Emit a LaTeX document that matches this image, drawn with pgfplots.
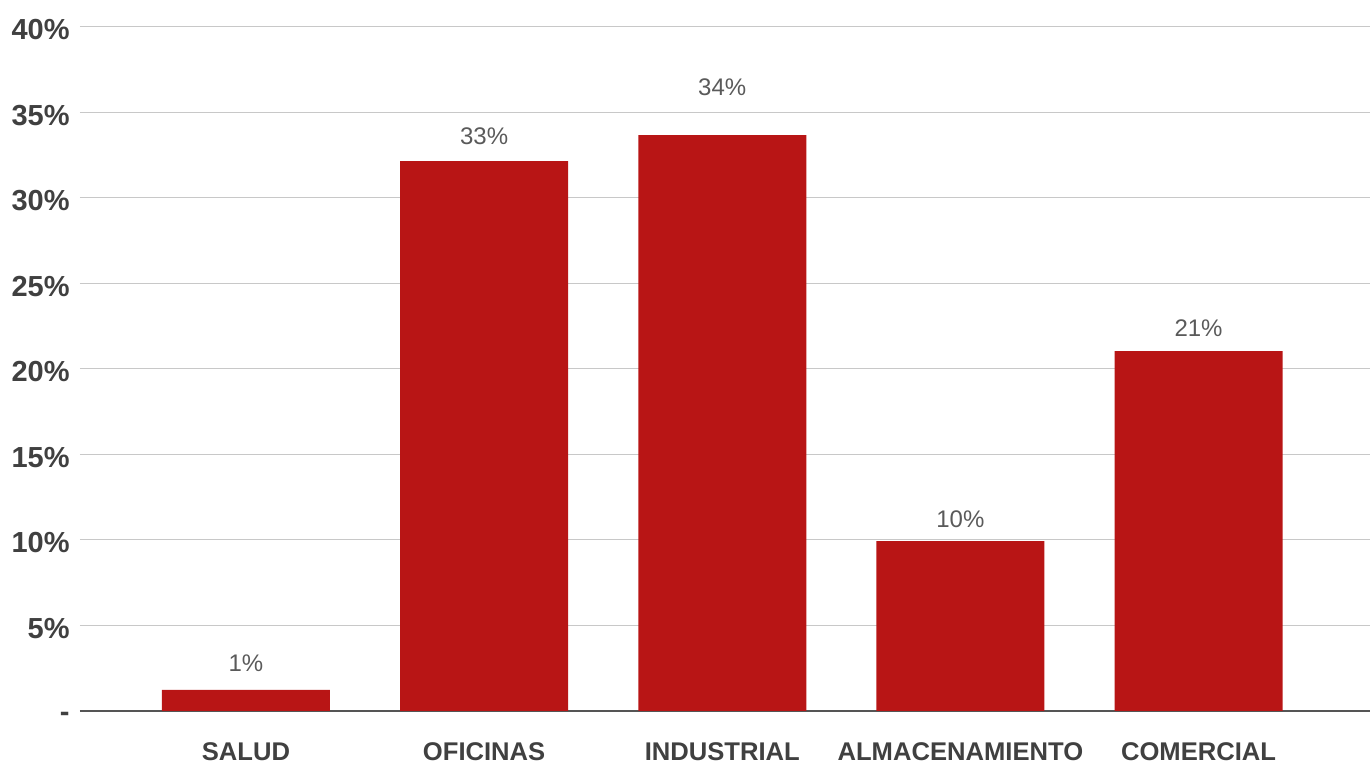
\documentclass[border=0pt]{standalone}
\usepackage{fontspec}
\setmainfont{Liberation Sans}
\usepackage{pgfplots}
\pgfplotsset{compat=1.18}
\definecolor{barred}{HTML}{B81515}
\definecolor{txt}{HTML}{404040}
\definecolor{lbl}{HTML}{5A5A5A}
\definecolor{gridc}{HTML}{C8C8C8}
\definecolor{axisc}{HTML}{555555}

\begin{document}
\begin{tikzpicture}
\begin{axis}[
  width=645pt, height=342pt, scale only axis,
  xmin=-0.697, xmax=4.72, ymin=0, ymax=40,
  axis line style={draw=none},
  major tick length=0pt,
  xtick={0,...,4},
  xticklabels={SALUD,OFICINAS,INDUSTRIAL,ALMACENAMIENTO,COMERCIAL},
  xticklabel style={font=\fontsize{12.8}{14}\selectfont\bfseries, text=txt,
    anchor=north, inner sep=0pt, yshift=-15.5pt},
  ytick={5,10,...,40},
  yticklabels={5\%,10\%,15\%,20\%,25\%,30\%,35\%,40\%},
  yticklabel style={font=\fontsize{14.5}{16}\selectfont\bfseries, text=txt,
    anchor=east, inner sep=0pt, xshift=-5pt, yshift=-1.5pt},
  ymajorgrids, grid style={gridc, line width=0.5pt},
  extra y ticks={0}, extra y tick labels={-},
  extra y tick style={grid style={axisc, line width=0.75pt},
    yticklabel style={yshift=-1.5pt}},
  clip=false,
]
\coordinate (o) at (rel axis cs:0,0);
% bars
\addplot[ybar, bar width=84pt, fill=barred, draw=none] coordinates {
  (0,1.23) (1,32.16) (2,33.68) (3,9.94) (4,21.05)
};
% value labels
\addplot[only marks, mark=none, nodes near coords, point meta=explicit symbolic,
  nodes near coords style={font=\fontsize{12}{14}\selectfont, text=lbl,
    anchor=center, inner sep=0pt}] coordinates {
  (0,2.81) [1\%] (1,33.63) [33\%] (2,36.49) [34\%] (3,11.23) [10\%] (4,22.40) [21\%]
};
\end{axis}
\pgfresetboundingbox
\path[use as bounding box] ([shift={(-40pt,-26pt)}]o) rectangle ([shift={(645pt,355.5pt)}]o);
\end{tikzpicture}
\end{document}
